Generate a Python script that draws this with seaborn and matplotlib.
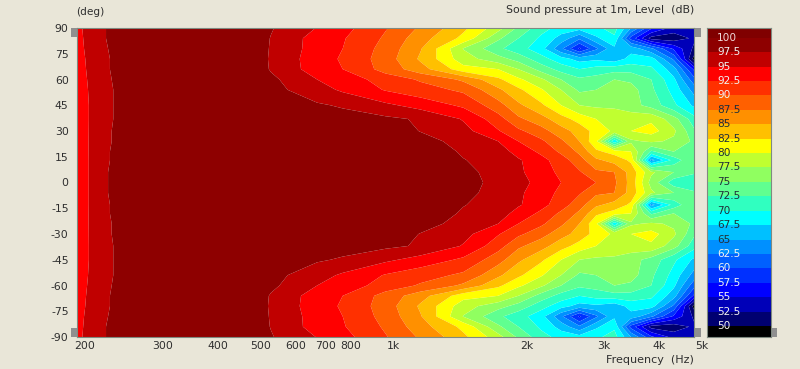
import numpy as np
import matplotlib
matplotlib.use("Agg")
import matplotlib.pyplot as plt
from matplotlib.colors import ListedColormap, BoundaryNorm
from matplotlib.patches import Rectangle
from matplotlib.ticker import FixedLocator, NullFormatter
from matplotlib.transforms import ScaledTranslation
import seaborn as sns

# frequency columns (Hz) and angle rows (deg), upper half of the polar map
freqs = [200, 215, 230, 300, 400, 500, 550, 600, 700, 800, 1000, 1200,
         1500, 1800, 2000, 2250, 2500, 2750, 3000, 3300, 3600, 4000, 4500, 5000]
angles = [90, 84, 78, 72, 66, 60, 54, 45, 37, 30, 24, 18, 13, 6, 0]

# SPL in dB, one list per angle
spl_90 = [94.4, 96.0, 97.4, 100, 100, 99.0, 97.7, 96.6, 94.9, 93.3, 90.2, 87.1, 83.1, 78.5, 74.5, 71.0, 69.0, 68.5, 69.5, 71.0, 65.0, 58.0, 54.0, 53.0]
spl_84 = [94.3, 95.9, 97.4, 100, 100, 99.0, 97.4, 96.1, 93.9, 92.7, 89.6, 86.0, 81.8, 75.5, 72.5, 69.5, 66.5, 63.0, 67.0, 69.5, 59.0, 51.5, 51.0, 53.0]
spl_78 = [94.2, 95.8, 97.3, 100, 100, 99.0, 97.3, 96.0, 93.9, 92.5, 89.0, 85.2, 77.4, 73.0, 71.0, 68.5, 63.0, 57.0, 62.0, 67.0, 66.5, 63.0, 57.0, 52.0]
spl_72 = [94.0, 95.7, 97.2, 100, 100, 99.0, 97.2, 95.9, 93.6, 92.2, 88.7, 84.6, 78.5, 76.0, 74.0, 71.0, 68.5, 66.5, 67.0, 66.0, 68.5, 68.5, 62.0, 49.0]
spl_66 = [93.9, 95.6, 97.2, 100, 100, 99.0, 97.3, 96.0, 93.7, 92.5, 89.0, 86.0, 81.0, 80.0, 77.5, 74.0, 71.5, 70.0, 71.0, 71.5, 71.5, 70.5, 66.0, 57.0]
spl_60 = [93.7, 95.5, 97.1, 100, 100, 99.5, 98.0, 97.0, 95.0, 93.8, 91.4, 89.7, 87.0, 83.0, 80.5, 78.0, 75.0, 73.0, 73.5, 75.0, 74.5, 72.5, 68.0, 61.0]
spl_54 = [93.5, 95.4, 97.0, 100, 100, 100, 99.0, 97.5, 96.0, 94.6, 92.3, 91.0, 89.5, 85.5, 83.0, 80.3, 77.5, 74.5, 75.0, 76.0, 76.0, 73.0, 69.0, 64.0]
spl_45 = [93.3, 95.3, 97.0, 100, 100, 100, 99.5, 98.5, 97.8, 97.2, 95.5, 94.0, 92.0, 88.5, 85.5, 83.0, 80.0, 77.5, 77.0, 77.0, 76.0, 74.0, 70.5, 67.0]
spl_37 = [93.3, 95.3, 97.0, 100, 100, 100, 100, 100, 99.0, 98.5, 98.0, 97.2, 94.8, 91.0, 88.0, 86.0, 83.5, 81.5, 80.0, 79.0, 79.0, 79.5, 76.0, 71.0]
spl_30 = [93.4, 95.3, 97.1, 100, 100, 100, 100, 100, 100, 100, 99.0, 97.4, 95.8, 92.7, 90.5, 88.5, 86.0, 84.0, 81.5, 79.5, 80.0, 81.0, 78.0, 73.0]
spl_24 = [93.5, 95.3, 97.1, 100, 100, 100, 100, 100, 100, 100, 100, 98.5, 96.5, 95.0, 92.5, 90.5, 88.0, 85.0, 80.5, 68.0, 77.0, 78.0, 77.0, 74.5]
spl_18 = [93.5, 95.3, 97.2, 100, 100, 100, 100, 100, 100, 100, 100, 99.0, 97.2, 96.3, 94.0, 92.0, 89.5, 87.0, 83.0, 81.5, 80.0, 72.0, 75.0, 74.0]
spl_13 = [93.4, 95.3, 97.2, 100, 100, 100, 100, 100, 100, 100, 100, 99.5, 97.6, 96.5, 95.3, 93.3, 91.2, 88.5, 85.5, 84.0, 82.0, 64.0, 71.0, 75.0]
spl_6 = [93.4, 95.3, 97.3, 100, 100, 100, 100, 100, 100, 100, 100, 100, 98.0, 96.8, 95.5, 93.5, 92.0, 90.3, 88.0, 87.5, 84.0, 78.0, 75.0, 73.0]
spl_0 = [93.4, 95.3, 97.3, 100, 100, 100, 100, 100, 100, 100, 100, 100, 98.1, 97.0, 96.0, 94.0, 92.5, 91.0, 90.0, 88.0, 84.0, 76.5, 71.0, 70.0]

# colour bands and scale labels
levels = [50, 52.5, 55, 57.5, 60, 62.5, 65, 67.5, 70, 72.5, 75, 77.5, 80, 82.5, 85, 87.5, 90, 92.5, 95, 97.5, 100]
level_names = ["50", "52.5", "55", "57.5", "60", "62.5", "65", "67.5", "70", "72.5", "75",
               "77.5", "80", "82.5", "85", "87.5", "90", "92.5", "95", "97.5", "100"]
band_colors = ["#000000", "#000070", "#0000b8", "#0000ff", "#0030ff", "#0060ff", "#0090ff", "#00c0ff",
               "#00ffff", "#30ffc0", "#60ff90", "#90ff60", "#c0ff30", "#ffff00", "#ffc000", "#ff9000",
               "#ff6000", "#ff3000", "#ff0000", "#c00000", "#8e0000", "#800000"]
x_major = [200, 300, 400, 500, 600, 700, 800, 1000, 2000, 3000, 4000, 5000]
x_names = ["200", "300", "400", "500", "600", "700", "800", "1k", "2k", "3k", "4k", "5k"]
x_minor = [250, 350, 450, 900, 1500, 2500, 3500, 4500]
y_major = [90, 75, 60, 45, 30, 15, 0, -15, -30, -45, -60, -75, -90]

BG = "#e9e6d8"
TXT = "#2e2e2e"

sns.set_theme(style="white")
plt.rcParams["font.family"] = ["DejaVu Sans"]
plt.rcParams["font.size"] = 7.8
plt.rcParams["text.color"] = TXT

# mirror the upper half, the speaker is measured symmetric
upper = np.array([spl_90, spl_84, spl_78, spl_72, spl_66, spl_60, spl_54, spl_45,
                  spl_37, spl_30, spl_24, spl_18, spl_13, spl_6, spl_0])
spl = np.vstack([upper, upper[-2::-1]])
deg = np.array(angles + [-a for a in angles[-2::-1]])

palette = sns.color_palette(band_colors, n_colors=len(band_colors))
cmap = ListedColormap(palette)
edges = [0] + levels + [200]
norm = BoundaryNorm(edges, cmap.N)

W, H = 800.0, 369.0
fig = plt.figure(figsize=(8, 3.69), dpi=100, facecolor=BG)
ax = fig.add_axes([77 / W, 1 - 337 / H, 617 / W, 309 / H])
ax.contourf(freqs, deg, spl, levels=edges, cmap=cmap, norm=norm, antialiased=True)
ax.set_xscale("log")
ax.set_xlim(200, 5000)
ax.set_ylim(-90, 90)

ax.xaxis.set_major_locator(FixedLocator(x_major))
ax.xaxis.set_minor_locator(FixedLocator(x_minor))
ax.xaxis.set_minor_formatter(NullFormatter())
ax.set_xticklabels(x_names)
ax.set_yticks(y_major)
ax.set_yticklabels([str(v) for v in y_major])
ax.tick_params(axis="both", which="both", direction="in", length=2, width=0.6, top=True, right=True,
               color="#c8c0b8", labelsize=7.8, labelcolor=TXT)
ax.tick_params(axis="y", pad=6)
ax.tick_params(axis="x", pad=3)
# the program puts the frequency labels a bit right of their ticks
shift = ScaledTranslation(8 / 100, 0, fig.dpi_scale_trans)
for lab in ax.get_xticklabels():
    lab.set_transform(lab.get_transform() + shift)
for s in ax.spines.values():
    s.set_color("#7f8a80")
    s.set_linewidth(0.8)

fig.text(76 / W, 1 - 12 / H, "(deg)", ha="left", va="center", fontsize=7.6)
fig.text(694 / W, 1 - 10 / H, "Sound pressure at 1m, Level  (dB)", ha="right", va="center", fontsize=7.9)
fig.text(694 / W, 1 - 360 / H, "Frequency  (Hz)", ha="right", va="center", fontsize=8)

# colour scale, one heatmap cell per band
cax = fig.add_axes([707 / W, 1 - 337 / H, 64 / W, 309 / H])
sns.heatmap(np.arange(len(band_colors)).reshape(-1, 1), ax=cax, cmap=cmap, cbar=False,
            xticklabels=False, yticklabels=False)
cax.set_ylim(0.236, 21.68)
cax.set_yticks(range(1, len(levels) + 1))
cax.set_yticklabels([])
cax.tick_params(axis="y", direction="in", length=3, width=0.6, left=True, color="#b8b8b0")
for i, name in enumerate(level_names):
    c = "#f2f2f2" if levels[i] >= 90 or levels[i] <= 62.5 else "#20303a"
    if levels[i] == 100:
        c = "#f0d8d8"
    cax.text(0.16, i + 1, name, color=c, fontsize=7.6, ha="left", va="center")
for s in cax.spines.values():
    s.set_visible(True)
    s.set_color("#7f8a80")
    s.set_linewidth(0.8)

# grey drag handles at the corners of the plot and the scale
for hx, hy, hw, hh in [(71, 28, 6, 9), (71, 328, 6, 9), (695, 28, 6, 9), (695, 328, 6, 9), (772, 328, 5, 9)]:
    fig.add_artist(Rectangle((hx / W, 1 - (hy + hh) / H), hw / W, hh / H, transform=fig.transFigure,
                             facecolor="#8f8f8f", edgecolor="none"))

fig.savefig("out.png", dpi=100, facecolor=BG)
